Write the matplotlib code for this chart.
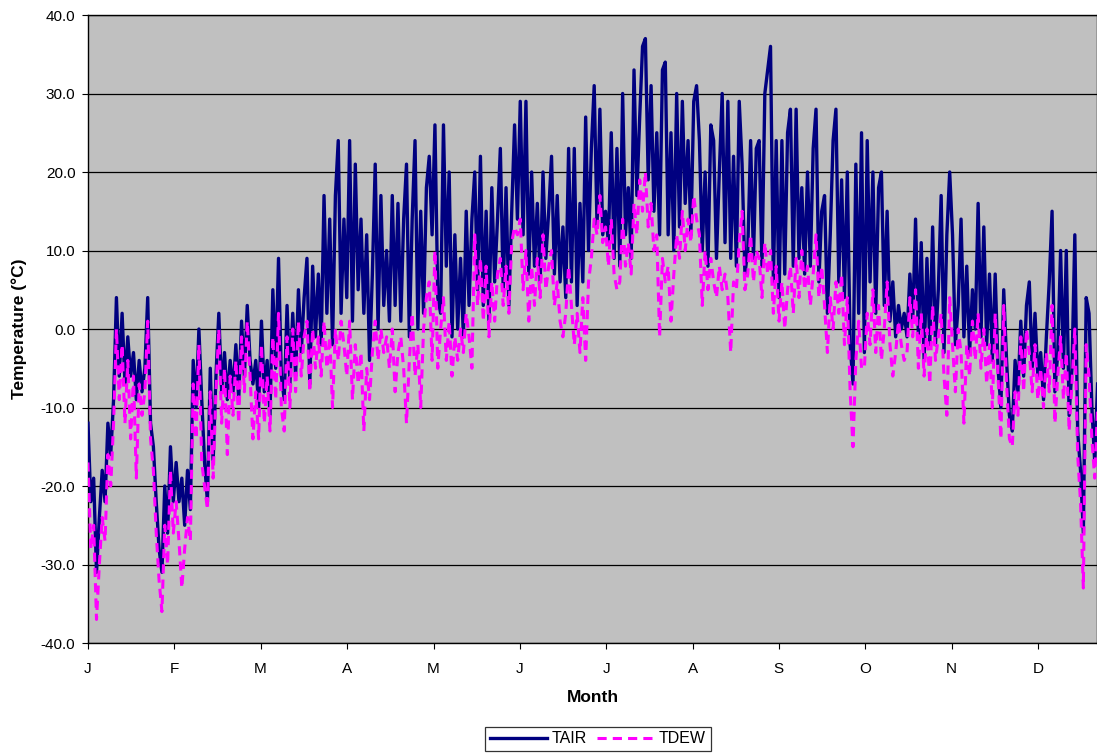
# Hourly air and dew point temperature over the year
import numpy as np
import matplotlib
matplotlib.use('Agg')
import matplotlib.pyplot as plt

plt.rcParams['font.family'] = ['Liberation Sans', 'DejaVu Sans']

# Month tick labels, evenly spaced along the axis (day of year)
month_labels = ['J', 'F', 'M', 'A', 'M', 'J', 'J', 'A', 'S', 'O', 'N', 'D']
month_ticks = [0, 30.4, 60.7, 91.1, 121.5, 151.8, 182.2, 212.6, 242.9, 273.3, 303.7, 334.0]

# TAIR (alternating highs and lows), by month
tair_jan = [-12, -22, -19, -31, -24, -18, -22, -12, -16, -9, 4, -6, 2, -7, -1, -6, -3, -9, -4, -8,
            -5, 4, -12, -15, -22, -28, -31, -20, -26, -15, -22]
tair_feb = [-17, -22, -19, -25, -18, -23, -4, -10, 0, -9, -17, -22, -5, -17, -6, 2, -8, -3, -9, -4,
            -8, -2, -9, 1, -6, 3, -4, -7]
tair_mar = [-4, -10, 1, -8, -4, -11, 5, -5, 9, -6, -9, 3, -7, 2, -6, 5, -3, 4, 9, -7,
            8, -1, 7, -2, 17, 2, 14, -2, 17, 24, 2]
tair_apr = [14, 4, 24, 1, 21, 5, 14, 2, 12, -4, 7, 21, 0, 17, 3, 10, 1, 17, 3, 16,
            1, 14, 21, -1, 14, 24, 0, 15, 2, 18]
tair_may = [22, 12, 26, 4, 2, 26, 8, 20, -1, 12, 0, 9, -1, 15, 3, 14, 20, 5, 22, 3,
            15, 1, 18, 6, 14, 23, 5, 18, 3, 15, 26]
tair_jun = [14, 29, 12, 29, 7, 20, 8, 16, 6, 20, 9, 15, 22, 7, 17, 6, 13, 4, 23, 6,
            23, 3, 16, 6, 27, 10, 23, 31, 13, 28]
tair_jul = [12, 15, 11, 25, 9, 23, 8, 30, 12, 18, 9, 33, 17, 27, 36, 37, 19, 31, 15, 25,
            12, 33, 34, 12, 25, 10, 30, 13, 29, 16, 24]
tair_aug = [12, 29, 31, 24, 10, 20, 8, 26, 24, 9, 20, 30, 11, 29, 9, 22, 8, 29, 21, 7,
            10, 24, 9, 23, 24, 8, 30, 33, 36, 6, 24]
tair_sep = [4, 24, 7, 25, 28, 8, 28, 9, 18, 7, 20, 8, 23, 28, 6, 15, 17, 2, 12, 24,
            28, 6, 19, 4, 20, -2, -7, 21, 2, 25]
tair_oct = [-3, 24, 6, 20, 2, 18, 20, 3, 15, 1, 6, -1, 3, 0, 2, -1, 7, 1, 14, -1,
            11, -4, 9, -2, 13, -2, 5, 17, -3, 12, 20]
tair_nov = [12, -2, 3, 14, -1, 8, -3, 5, 0, 16, -1, 13, -2, 7, -4, 7, -5, -10, 5, -4,
            -11, -13, -4, -8, 1, -6, 3, 6, -5, 2]
tair_dec = [-6, -3, -9, -1, 6, 15, -8, -3, 10, -5, 10, -11, -5, 12, -13, -18, -26, 4, 2, -10,
            -17, -7]

# TDEW, by month
tdew_jan = [-17, -28, -25, -37, -30, -24, -27, -16, -20, -12, 0, -9, -2, -12, -4, -14, -6, -19, -7, -11,
            -8, 1, -14, -18, -26, -32, -36, -25, -30, -18, -26]
tdew_feb = [-22, -27, -33, -28, -24, -27, -7, -14, -2, -17, -20, -23, -8, -19, -8, 0, -12, -5, -16, -6,
            -11, -4, -12, -1, -8, 1, -6, -14]
tdew_mar = [-8, -14, -2, -12, -6, -13, -1, -9, 2, -10, -13, -1, -10, 0, -8, 1, -6, -1, 1, -8,
            0, -5, -1, -6, 1, -5, -1, -10, 0, -4, 1]
tdew_apr = [-2, -6, 1, -9, -2, -7, -3, -13, -5, -9, -3, 1, -4, 0, -3, -1, -5, 0, -8, -3,
            -1, -5, -12, -4, 2, -6, -2, -10, 0, 4]
tdew_may = [6, -4, 10, -5, 0, 4, -4, 1, -6, -1, -4, 0, -3, 2, -1, -5, 12, 3, 9, 1,
            8, -1, 6, 1, 7, 9, 3, 8, 2, 11, 13]
tdew_jun = [12, 14, 5, 10, 1, 8, 3, 9, 4, 12, 5, 8, 10, 3, 6, 1, -1, 2, 8, 3,
            -2, 2, -3, 4, -4, 6, 9, 14, 12, 17]
tdew_jul = [11, 13, 8, 14, 7, 5, 6, 14, 8, 11, 7, 16, 12, 19, 15, 20, 13, 16, 10, 12,
            -1, 9, 6, 8, 1, 7, 12, 9, 15, 10, 14]
tdew_aug = [11, 17, 14, 12, 3, 10, 5, 9, 6, 4, 8, 5, 7, 4, -3, 6, 5, 11, 15, 5,
            7, 12, 6, 10, 9, 4, 11, 7, 10, 2, 8]
tdew_sep = [1, 6, 0, 5, 8, 2, 9, 4, 10, 5, 8, 3, 7, 12, 4, 8, 3, -3, 4, 0,
            6, 2, 7, -2, 4, -8, -15, -4, 1, -5]
tdew_oct = [-5, 2, -2, 5, -3, 3, -4, 0, 6, -2, -6, -3, 1, -2, -4, -3, 4, -1, 5, -5,
            2, -6, 0, -7, 3, -4, -1, 2, -6, -11, 4]
tdew_nov = [-2, -8, 0, -3, -12, -2, -6, 1, -4, 2, -5, 0, -7, -2, -10, 2, -6, -14, 3, -7,
            -14, -15, -8, -11, -1, -8, 0, -3, -8, -2]
tdew_dec = [-9, -5, -10, -3, -8, 3, -12, -6, -1, -9, -3, -13, -7, 0, -16, -22, -33, -2, -6, -14,
            -19, -10]

tair = np.concatenate([tair_jan, tair_feb, tair_mar, tair_apr, tair_may, tair_jun,
                       tair_jul, tair_aug, tair_sep, tair_oct, tair_nov, tair_dec])
tdew = np.concatenate([tdew_jan, tdew_feb, tdew_mar, tdew_apr, tdew_may, tdew_jun,
                       tdew_jul, tdew_aug, tdew_sep, tdew_oct, tdew_nov, tdew_dec])
days = np.arange(len(tair))

# Create figure
fig = plt.figure(figsize=(10.97, 7.54), dpi=100)
ax = fig.add_axes([0.0802, 0.1472, 0.9198, 0.8329])
ax.set_facecolor('#C0C0C0')

ax.plot(days, tair, color='#000080', lw=2.4, label='TAIR', zorder=3)
ax.plot(days, tdew, color='#FF00FF', lw=2.2, dashes=(3, 2), label='TDEW', zorder=4)

# Axes, grid and ticks
ax.set_xlim(0, 354.8)
ax.set_ylim(-40, 40)
yt = np.arange(-40, 41, 10)
ax.set_yticks(yt)
ax.set_yticklabels(['{:.1f}'.format(v) for v in yt], fontsize=11)
ax.set_xticks(month_ticks)
ax.set_xticklabels(month_labels, fontsize=11)
ax.tick_params(axis='both', direction='out', length=4, color='black')
ax.tick_params(axis='x', pad=10)
ax.tick_params(axis='y', pad=5)
ax.grid(axis='y', color='black', lw=0.9)
ax.set_axisbelow(True)
for sp in ax.spines.values():
    sp.set_color('black')
    sp.set_linewidth(1.0)

ax.set_xlabel('Month', fontsize=12.5, fontweight='bold', labelpad=10)
ax.set_ylabel('Temperature (\u00b0C)', fontsize=12.5, fontweight='bold', labelpad=10)

# Legend below the axis
leg = fig.legend(loc='center', bbox_to_anchor=(0.545, 0.02), ncol=2, fontsize=11.5,
                 frameon=True, fancybox=False, edgecolor='black', handlelength=3.6,
                 borderpad=0.3, columnspacing=0.6, handletextpad=0.3)
leg.get_frame().set_linewidth(0.9)

plt.savefig('out.png', dpi=100)
